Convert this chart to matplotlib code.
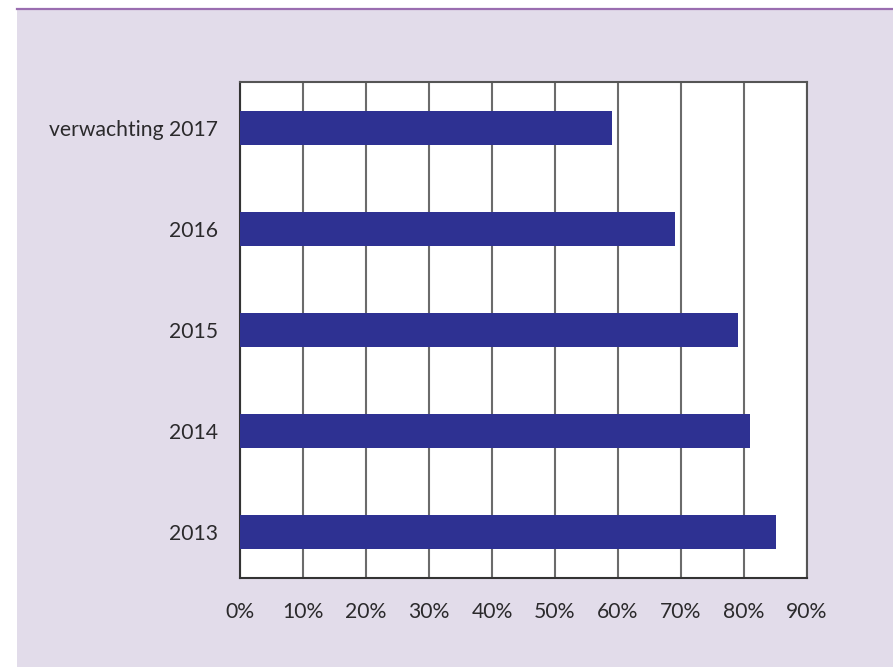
import matplotlib
matplotlib.use("Agg")
import matplotlib.pyplot as plt
from matplotlib.patches import Rectangle
from matplotlib.lines import Line2D

# Share of respondents per year (percent)
categories = ["2013", "2014", "2015", "2016", "verwachting 2017"]
values = [85, 81, 79, 69, 59]
xticks = [0, 10, 20, 30, 40, 50, 60, 70, 80, 90]
xtick_labels = [f"{t}%" for t in xticks]

plt.rcParams["font.family"] = ["Lato", "DejaVu Sans"]
text_color = "#2b2a2c"

W, H = 893, 667
fig = plt.figure(figsize=(W / 100, H / 100), dpi=100, facecolor="white")

# Lavender panel with a purple rule along its top edge
fig.add_artist(Rectangle((17 / W, 0), 1 - 17 / W, (H - 10) / H,
                         transform=fig.transFigure, facecolor="#e2dcea",
                         edgecolor="none", zorder=-2))
fig.add_artist(Line2D([17 / W, 1], [(H - 9) / H, (H - 9) / H],
                      transform=fig.transFigure, color="#9a6db0",
                      linewidth=1.6, zorder=-1))

ax = fig.add_axes([240 / W, (H - 578) / H, (807 - 240) / W, (578 - 82) / H])
ax.set_zorder(5)
ax.set_facecolor("white")

pos = list(range(len(categories)))
ax.barh(pos, values, height=0.336, color="#2e3192", zorder=3)

ax.set_xlim(0, 90)
ax.set_ylim(-0.45, 4.45)
ax.set_xticks(xticks)
ax.set_xticklabels(xtick_labels)
ax.set_yticks(pos)
ax.set_yticklabels(categories)

ax.grid(axis="x", color="#6b6b6b", linewidth=1.5, zorder=1)
ax.set_axisbelow(True)
ax.tick_params(axis="both", length=0, labelsize=15.2, labelcolor=text_color)
ax.tick_params(axis="x", pad=17)
ax.tick_params(axis="y", pad=16)

for side in ["left", "bottom"]:
    ax.spines[side].set_color("#333333")
    ax.spines[side].set_linewidth(1.5)
for side in ["top", "right"]:
    ax.spines[side].set_color("#555555")
    ax.spines[side].set_linewidth(1.5)

fig.savefig("out.png", dpi=100, facecolor=fig.get_facecolor())
